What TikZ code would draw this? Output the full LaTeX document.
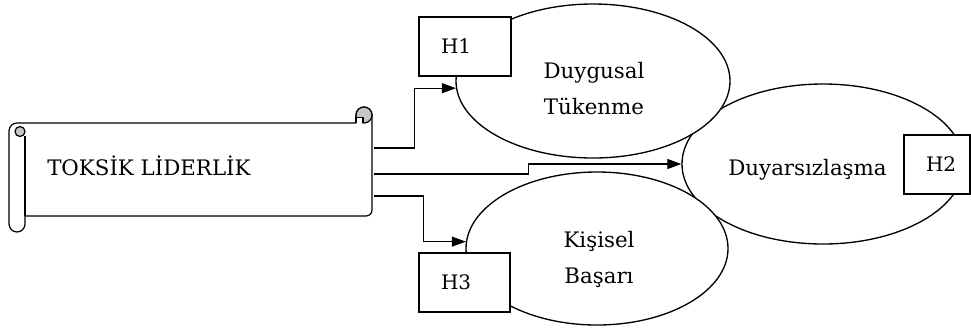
\documentclass[tikz,border=0pt]{standalone}
\usepackage{fontspec}
\setmainfont{DejaVu Serif}
\usetikzlibrary{arrows.meta,shapes.geometric,calc}

\tikzset{
  oval/.style={ellipse, draw, fill=white, line width=1pt, inner sep=0pt},
  hbox/.style={draw, fill=white, line width=0.8pt, minimum height=44.25pt,
    inner xsep=16.5pt, align=left, font=\fontsize{15pt}{18pt}\selectfont},
  txt/.style={font=\fontsize{16pt}{27pt}\selectfont, align=center, inner sep=0pt},
  arr/.style={-{Triangle[length=10.5pt,width=7.5pt]}, line width=0.8pt},
  roll/.style={draw, line width=0.9pt, line join=round}
}

\begin{document}
\begin{tikzpicture}[x=0.75pt,y=-0.75pt]
\useasboundingbox (0,0) rectangle (971,330);

% the three outcome variables
\node[oval, minimum width=211.5pt, minimum height=120pt] (duyar) at (823,164) {};
\node[oval, minimum width=205.5pt, minimum height=115.5pt] (duygusal) at (593,81) {};
\node[oval, minimum width=196.5pt, minimum height=114.75pt] (kisisel) at (597,248.5) {};
\node[txt] (duygusalT) at ($(duygusal.center)+(1,8)$) {Duygusal\\Tükenme};
\node[txt] (duyarT) at ($(duyar.center)+(-15.5,5.5)$) {Duyarsızlaşma};
\node[txt] (kisiselT) at ($(kisisel.center)+(2,11)$) {Kişisel\\Başarı};

% hypothesis boxes
\node[hbox, text width=36pt] (h1) at (465,46.5) {H1};
\node[hbox, text width=16.5pt] (h2) at (937,164.5) {H2};
\node[hbox, text width=35.25pt] (h3) at (464.5,282.5) {H3};

% scroll (y runs downwards here, so angles turn the other way)
\node[minimum width=260.25pt, minimum height=69.75pt, inner sep=0pt] (scroll) at (198.5,169.5) {};
\draw[roll, fill=white] (9,131) arc (180:270:8) -- (356,123) -- (356,115)
  arc (180:360:8) -- (372,210) arc (0:90:6) -- (25,216) -- (25,224)
  arc (0:180:8) -- cycle;
\draw[roll] (25,136) -- (25,216);
\draw[roll, fill=gray!45] (20,131.5) circle (5);
\draw[roll, fill=gray!45] (364,115) circle (8);
\draw[roll, fill=white] (356,123) -- (356,117.5) -- (363,117.5) -- (363,123);
\node[font=\fontsize{16pt}{20pt}\selectfont, anchor=base west, inner sep=0pt] (toksik) at (47,175) {TOKSİK LİDERLİK};

% connectors
\coordinate (s1) at ($(scroll.east)+(2,-21.5)$);
\coordinate (s2) at ($(scroll.east)+(2,4.5)$);
\coordinate (s3) at ($(scroll.east)+(2,26.5)$);
\draw[arr] (s1) -- ++(40,0) |- (duygusal.183.4);
\draw[arr] (s2) -- ++(154,0) |- (duyar.west);
\draw[arr] (s3) -- ++(49,0) |- (kisisel.177.2);
\end{tikzpicture}
\end{document}
